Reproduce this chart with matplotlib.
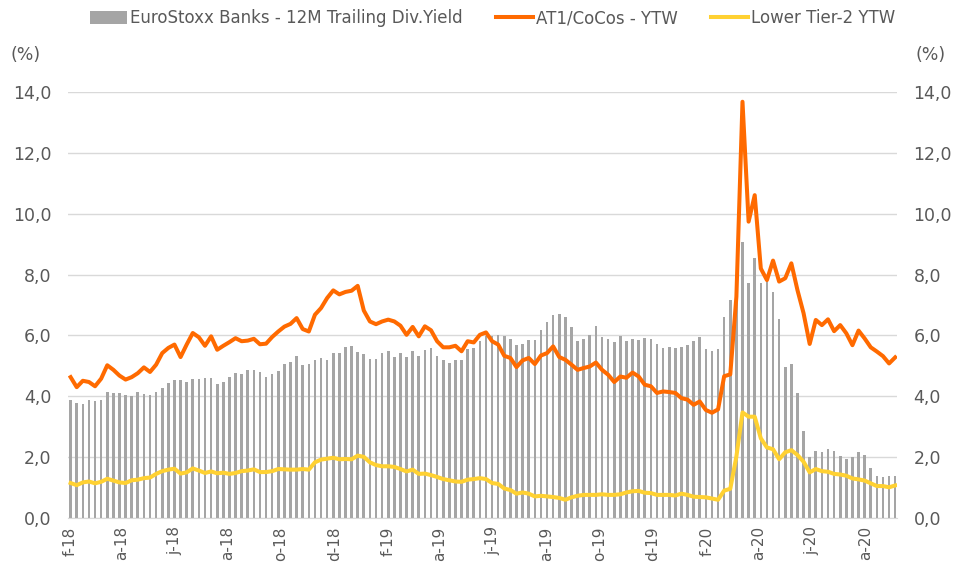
import numpy as np
import pandas as pd
import matplotlib
matplotlib.use("Agg")
import matplotlib.pyplot as plt
from matplotlib.ticker import FuncFormatter

# weekly observations, Feb 2018 -> Sep 2020
dates = pd.date_range("2018-02-02", periods=136, freq="7D")

div_yield = [
    3.88, 3.78, 3.75, 3.88, 3.83, 3.88, 4.14, 4.11, 4.11, 4.03,
    4.01, 4.14, 4.07, 4.04, 4.14, 4.26, 4.45, 4.52, 4.52, 4.48,
    4.56, 4.56, 4.59, 4.59, 4.42, 4.48, 4.62, 4.78, 4.74, 4.85,
    4.88, 4.81, 4.62, 4.73, 4.84, 5.07, 5.13, 5.32, 5.04, 5.06,
    5.20, 5.26, 5.20, 5.42, 5.42, 5.62, 5.65, 5.47, 5.40, 5.22,
    5.22, 5.42, 5.50, 5.29, 5.42, 5.29, 5.50, 5.33, 5.53, 5.60,
    5.33, 5.20, 5.10, 5.20, 5.20, 5.55, 5.60, 5.83, 5.97, 5.99,
    6.01, 5.97, 5.89, 5.70, 5.73, 5.86, 5.86, 6.19, 6.44, 6.68,
    6.71, 6.60, 6.28, 5.83, 5.89, 6.01, 6.32, 5.95, 5.89, 5.77,
    5.99, 5.81, 5.89, 5.86, 5.93, 5.89, 5.73, 5.60, 5.63, 5.60,
    5.63, 5.70, 5.83, 5.96, 5.56, 5.50, 5.55, 6.60, 7.15, 7.90,
    9.06, 7.71, 8.53, 7.73, 7.82, 7.44, 6.54, 4.97, 5.06, 4.10,
    2.86, 2.02, 2.21, 2.18, 2.27, 2.21, 2.04, 1.94, 2.02, 2.18,
    2.07, 1.65, 1.39, 1.36, 1.39, 1.39,
]

at1_ytw = [
    4.63, 4.30, 4.51, 4.47, 4.33, 4.58, 5.02, 4.87, 4.68, 4.55,
    4.63, 4.76, 4.95, 4.80, 5.04, 5.42, 5.59, 5.70, 5.29, 5.70,
    6.08, 5.94, 5.66, 5.97, 5.53, 5.66, 5.78, 5.91, 5.81, 5.83,
    5.89, 5.71, 5.73, 5.95, 6.13, 6.29, 6.38, 6.57, 6.21, 6.13,
    6.68, 6.90, 7.23, 7.48, 7.35, 7.43, 7.47, 7.63, 6.82, 6.46,
    6.37, 6.46, 6.52, 6.46, 6.32, 6.02, 6.28, 5.97, 6.30, 6.17,
    5.81, 5.61, 5.61, 5.66, 5.48, 5.81, 5.77, 6.02, 6.10, 5.81,
    5.70, 5.33, 5.26, 4.96, 5.18, 5.26, 5.06, 5.34, 5.42, 5.64,
    5.29, 5.20, 5.04, 4.87, 4.93, 4.98, 5.11, 4.87, 4.71, 4.47,
    4.65, 4.61, 4.78, 4.65, 4.38, 4.33, 4.11, 4.16, 4.14, 4.11,
    3.94, 3.89, 3.72, 3.83, 3.55, 3.46, 3.57, 4.66, 4.72, 7.27,
    13.68, 9.74, 10.61, 8.20, 7.82, 8.46, 7.77, 7.88, 8.37, 7.49,
    6.73, 5.72, 6.51, 6.34, 6.53, 6.14, 6.34, 6.07, 5.68, 6.16,
    5.90, 5.61, 5.47, 5.32, 5.08, 5.28,
]

lt2_ytw = [
    1.15, 1.08, 1.17, 1.20, 1.14, 1.19, 1.29, 1.23, 1.17, 1.15,
    1.24, 1.26, 1.31, 1.33, 1.45, 1.54, 1.59, 1.62, 1.46, 1.50,
    1.63, 1.56, 1.48, 1.53, 1.47, 1.49, 1.45, 1.48, 1.54, 1.56,
    1.60, 1.51, 1.51, 1.54, 1.61, 1.60, 1.59, 1.59, 1.61, 1.59,
    1.83, 1.92, 1.95, 1.98, 1.93, 1.94, 1.93, 2.05, 2.01, 1.83,
    1.74, 1.70, 1.70, 1.68, 1.61, 1.53, 1.59, 1.45, 1.46, 1.41,
    1.35, 1.28, 1.24, 1.20, 1.19, 1.26, 1.28, 1.31, 1.28, 1.15,
    1.12, 0.97, 0.92, 0.80, 0.84, 0.80, 0.71, 0.73, 0.71, 0.69,
    0.66, 0.60, 0.68, 0.73, 0.76, 0.76, 0.76, 0.78, 0.76, 0.76,
    0.78, 0.84, 0.88, 0.89, 0.83, 0.82, 0.76, 0.76, 0.76, 0.74,
    0.80, 0.76, 0.70, 0.69, 0.68, 0.64, 0.60, 0.90, 0.96, 2.02,
    3.47, 3.33, 3.33, 2.62, 2.32, 2.26, 1.93, 2.16, 2.23, 2.07,
    1.85, 1.50, 1.61, 1.54, 1.52, 1.45, 1.43, 1.39, 1.30, 1.27,
    1.23, 1.14, 1.05, 1.05, 1.01, 1.07,
]

tick_dates = pd.date_range("2018-02-01", "2020-08-01", freq="2MS")
tick_labels = ["f-18", "a-18", "j-18", "a-18", "o-18", "d-18", "f-19", "a-19",
               "j-19", "a-19", "o-19", "d-19", "f-20", "a-20", "j-20", "a-20"]

txt = "#595959"
fs = 12.5

fig = plt.figure(figsize=(9.55, 5.68), dpi=100)
ax = fig.add_axes([0.0712, 0.088, 0.868, 0.750])

bars = ax.bar(dates, div_yield, width=3.0, color="#A5A5A5", zorder=2)
l1, = ax.plot(dates, at1_ytw, color="#FF6A00", lw=2.9, zorder=4,
              solid_joinstyle="round")
l2, = ax.plot(dates, lt2_ytw, color="#FFD132", lw=2.9, zorder=3,
              solid_joinstyle="round")

ax.set_ylim(0, 14)
ax.set_yticks(np.arange(0, 15, 2))
fmt = FuncFormatter(lambda v, p: f"{v:.1f}".replace(".", ","))
ax.yaxis.set_major_formatter(fmt)
ax.set_xlim(dates[0] - pd.Timedelta(days=3), dates[-1] + pd.Timedelta(days=2))
ax.set_xticks(tick_dates)
ax.set_xticklabels(tick_labels, rotation=90)

ax.grid(axis="y", color="#D9D9D9", lw=1, zorder=0)
ax.set_axisbelow(True)
for s in ["top", "right", "left"]:
    ax.spines[s].set_visible(False)
ax.spines["bottom"].set_color("#D9D9D9")
ax.tick_params(axis="y", length=0, colors=txt, labelsize=fs, pad=12)
ax.tick_params(axis="x", length=0, colors=txt, labelsize=11, pad=6)

ax2 = ax.twinx()
ax2.set_ylim(ax.get_ylim())
ax2.set_yticks(np.arange(0, 15, 2))
ax2.yaxis.set_major_formatter(fmt)
for s in ax2.spines.values():
    s.set_visible(False)
ax2.tick_params(axis="y", length=0, colors=txt, labelsize=fs, pad=12)

fig.text(0.027, 0.903, "(%)", color=txt, fontsize=fs, ha="center", va="center")
fig.text(0.974, 0.903, "(%)", color=txt, fontsize=fs, ha="center", va="center")

fig.legend([bars, l1, l2],
           ["EuroStoxx Banks - 12M Trailing Div.Yield", "AT1/CoCos - YTW", "Lower Tier-2 YTW"],
           loc="center", bbox_to_anchor=(0.516, 0.968), ncol=3, frameon=False,
           fontsize=12, labelcolor=txt, handlelength=2.2, handleheight=0.8,
           handletextpad=0.2, columnspacing=2.0)

fig.savefig("out.png", dpi=100)
